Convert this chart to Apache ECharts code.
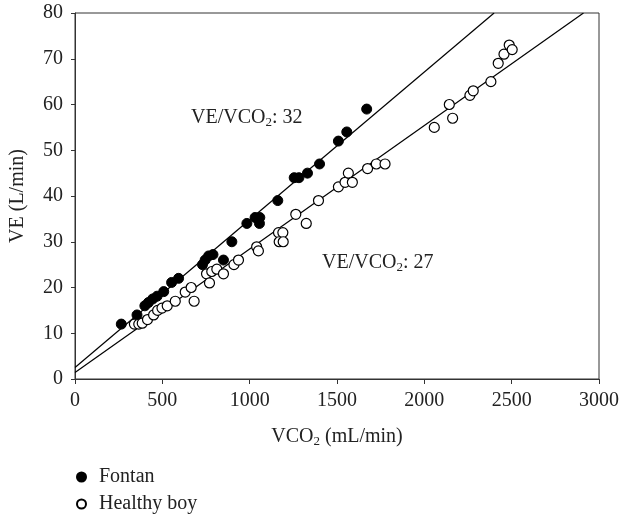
<!DOCTYPE html>
<html><head><meta charset="utf-8">
<script src="https://cdn.jsdelivr.net/npm/echarts@6/dist/echarts.min.js"></script>
<style>html,body{margin:0;padding:0;background:#fff}#c{width:622px;height:518px}</style>
</head><body><div id="c"></div>
<script>
// Data
const fontanVCO2 = [265,355,400,420,445,470,508,553,593,730,745,765,790,850,898,984,1031,1058,1056,1161,1255,1282,1331,1400,1508,1556,1670];
const fontanVE   = [12,14,16,16.7,17.5,18.1,19.1,21.1,22,25,26,26.9,27.2,26,30,34,35.3,35.3,34,39,44,44,45,47,52,54,59];
const healthyVCO2 = [340,365,385,415,450,473,498,528,574,631,665,682,753,770,783,812,850,910,936,1040,1050,1165,1190,1169,1192,1264,1324,1394,1508,1546,1565,1588,1675,1725,1775,2057,2162,2143,2261,2280,2381,2423,2456,2486,2503];
const healthyVE   = [12,12,12.2,13,14,15,15.5,16,17,19,20,17,23,21,23.5,24,23,25,26,28.9,28,32,32,30,30,36,34,39,42,43,45,43,46,47,47,55,57,60,62,63,65,69,71,73,72];
// Regression lines: [intercept, slope]
const fontanFit = [2.5, 0.0323];
const healthyFit = [1.4, 0.0270];
const xTicks = [0,500,1000,1500,2000,2500,3000];
const yTicks = [0,10,20,30,40,50,60,70,80];

const FONT = '"Liberation Serif", "DejaVu Serif", serif';
const INK = '#222';
function pts(xs, ys){ return xs.map((x,i)=>[x, ys[i]]); }
function fitLine(f){ const xEnd = (80 - f[0]) / f[1]; return [[0, f[0]], [xEnd, 80]]; }
const richSub = {
  a: { fontFamily: FONT, fontSize: 20, color: INK, fill: INK, lineHeight: 22 },
  s: { fontFamily: FONT, fontSize: 13, color: INK, fill: INK, lineHeight: 22, padding: [9,0,0,0] }
};

const chart = echarts.init(document.getElementById('c'));
chart.setOption({
  animation: false,
  backgroundColor: '#fff',
  grid: { left: 75, right: 23, top: 13, bottom: 139, show: true, borderColor: '#333', borderWidth: 1 },
  xAxis: {
    type: 'value', min: xTicks[0], max: xTicks[xTicks.length-1], interval: 500,
    name: '{a|VCO}{s|2}{a| (mL/min)}', nameLocation: 'middle', nameGap: 47,
    nameTextStyle: { rich: richSub },
    axisLine: { lineStyle: { color: '#333', width: 1 } },
    axisTick: { show: true, length: 5, lineStyle: { color: '#333' } },
    axisLabel: { fontFamily: FONT, fontSize: 20, color: INK, margin: 12, formatter: v => String(v) },
    splitLine: { show: false }
  },
  yAxis: {
    type: 'value', min: yTicks[0], max: yTicks[yTicks.length-1], interval: 10,
    name: 'VE (L/min)', nameLocation: 'middle', nameGap: 47,
    nameTextStyle: { fontFamily: FONT, fontSize: 20, color: INK },
    axisLine: { show: true, lineStyle: { color: '#333', width: 1 } },
    axisTick: { show: true, length: 4, lineStyle: { color: '#333' } },
    axisLabel: { fontFamily: FONT, fontSize: 20, color: INK, margin: 12 },
    splitLine: { show: false }
  },
  legend: {
    orient: 'vertical', left: 76, top: 467, itemGap: 7, padding: 0,
    itemWidth: 9, itemHeight: 9,
    textStyle: { fontFamily: FONT, fontSize: 20, color: INK, padding: [0,0,0,8] },
    data: [
      { name: 'Fontan', icon: 'circle' },
      { name: 'Healthy boy', icon: 'circle' }
    ]
  },
  series: [
    { type: 'line', name: 'fitF', data: fitLine(fontanFit), symbol: 'none', lineStyle: { color: '#000', width: 1.2 }, z: 1, silent: true },
    { type: 'line', name: 'fitH', data: fitLine(healthyFit), symbol: 'none', lineStyle: { color: '#000', width: 1.2 }, z: 1, silent: true },
    { type: 'scatter', name: 'Fontan', data: pts(fontanVCO2, fontanVE), symbol: 'circle', symbolSize: 10,
      itemStyle: { color: '#000', borderColor: '#000', borderWidth: 1, opacity: 1 }, z: 3 },
    { type: 'scatter', name: 'Healthy boy', data: pts(healthyVCO2, healthyVE), symbol: 'circle', symbolSize: 10,
      itemStyle: { color: '#fff', borderColor: '#000', borderWidth: 1.2, opacity: 1 }, z: 3 }
  ],
  graphic: [
    { type: 'text', left: 191, top: 107, style: { rich: richSub, text: '{a|VE/VCO}{s|2}{a|: 32}' } },
    { type: 'text', left: 322, top: 252, style: { rich: richSub, text: '{a|VE/VCO}{s|2}{a|: 27}' } }
  ]
});
</script></body></html>
